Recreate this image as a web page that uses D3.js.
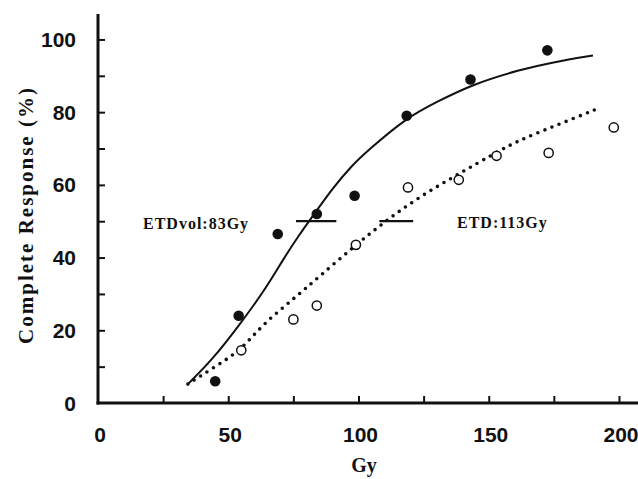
<!DOCTYPE html>
<html>
<head>
<meta charset="utf-8">
<script src="https://cdn.jsdelivr.net/npm/d3@7"></script>
<style>
  html, body { margin: 0; padding: 0; background: #fff; }
  svg { display: block; }
  .tick-label { font-family: "Liberation Sans", Arial, sans-serif; font-weight: bold; font-size: 21px; fill: #111; }
  .serif { font-family: "Liberation Serif", "Times New Roman", serif; font-weight: bold; fill: #111; }
</style>
</head>
<body>
<div id="chart"></div>
<script>
"use strict";

// --- DATA ---
const filledGy = [45, 54, 69, 84, 98.5, 118.5, 143, 172.5];
const filledCR = [6, 24, 46.5, 52, 57, 79, 89, 97];

const openGy = [55, 75, 84, 99, 119, 138.5, 153, 173, 198];
const openCR = [14.5, 23, 26.8, 43.5, 59.3, 61.4, 68, 68.8, 75.8];

// fitted curve (ETDvol) - solid
const solidGy = [34.5, 44, 54, 64, 71.5, 77, 83, 90, 97, 104, 118.5, 130, 143.5, 162, 175, 190];
const solidCR = [5.2, 12, 21.2, 31, 40, 46, 52, 59, 65, 69.7, 78.5, 82.8, 87.6, 91.7, 93.8, 95.6];

// fitted curve (ETD) - dotted
const dottedGy = [34.5, 45, 55, 63, 75, 85, 99, 111, 124, 138, 152, 162, 174, 193];
const dottedCR = [5.2, 10, 14.6, 21.5, 28.6, 34.8, 43.5, 50.4, 57, 62.8, 68.6, 72.4, 75.8, 81.3];

const etdLabels = ["ETDvol:83Gy", "ETD:113Gy"];
const etdSpanLo = [76, 108];
const etdSpanHi = [91.5, 121];
const etdLevel = 50;

const xTickVals = [0, 25, 50, 75, 100, 125, 150, 175, 200];
const xLabelVals = [0, 50, 100, 150, 200];
const yTickVals = [10, 20, 30, 40, 50, 60, 70, 80, 90, 100];
const yLabelVals = [0, 20, 40, 60, 80, 100];

// --- LAYOUT ---
const W = 638, H = 479;
const M = { left: 98, right: 0, top: 14, bottom: 76 };
const ink = "#111";

const x = d3.scaleLinear().domain([0, 207.3]).range([M.left, W - M.right]);
const y = d3.scaleLinear().domain([0, 107]).range([H - M.bottom, M.top]);

const svg = d3.select("#chart").append("svg").attr("width", W).attr("height", H);

// --- AXES ---
const xAxis = svg.append("g").attr("transform", `translate(0,${y(0)})`)
    .call(d3.axisTop(x).tickValues(xTickVals.filter(v => v > 0)).tickSize(7).tickFormat(""));
xAxis.select(".domain").attr("d", `M${M.left - 1.5},0H${W}`).attr("stroke", ink).attr("stroke-width", 3);
xAxis.selectAll(".tick line").attr("stroke", ink).attr("stroke-width", 2);

const yAxis = svg.append("g").attr("transform", `translate(${x(0)},0)`)
    .call(d3.axisRight(y).tickValues(yTickVals).tickSize(7).tickFormat(""));
yAxis.select(".domain").attr("d", `M0,${M.top}V${y(0) + 1.5}`).attr("stroke", ink).attr("stroke-width", 3);
yAxis.selectAll(".tick line").attr("stroke", ink).attr("stroke-width", 2);

// tick labels
svg.append("g").selectAll("text").data(xLabelVals).enter().append("text")
    .attr("class", "tick-label")
    .attr("x", d => x(d) + 2).attr("y", 442)
    .attr("text-anchor", "middle")
    .text(d => d);

svg.append("g").selectAll("text").data(yLabelVals).enter().append("text")
    .attr("class", "tick-label")
    .attr("x", 76).attr("y", d => y(d) + 7.5)
    .attr("text-anchor", "end")
    .text(d => d);

// axis titles
svg.append("text").attr("class", "serif")
    .attr("x", 364).attr("y", 472)
    .attr("text-anchor", "middle")
    .style("font-size", "20px")
    .text("Gy");

svg.append("text").attr("class", "serif")
    .attr("transform", "translate(33,215) rotate(-90)")
    .attr("text-anchor", "middle")
    .style("font-size", "21px").style("letter-spacing", "2px")
    .text("Complete Response (%)");

// --- CURVES ---
const line = d3.line().x(d => x(d[0])).y(d => y(d[1])).curve(d3.curveBasis);

svg.append("path")
    .datum(d3.zip(solidGy, solidCR))
    .attr("d", line)
    .attr("fill", "none").attr("stroke", ink).attr("stroke-width", 2);

svg.append("path")
    .datum(d3.zip(dottedGy, dottedCR))
    .attr("d", line)
    .attr("fill", "none").attr("stroke", ink).attr("stroke-width", 3.6)
    .attr("stroke-linecap", "round").attr("stroke-dasharray", "0,7.6");

// --- ETD markers ---
svg.append("g").selectAll("line").data(d3.range(etdLabels.length)).enter().append("line")
    .attr("x1", i => x(etdSpanLo[i])).attr("x2", i => x(etdSpanHi[i]))
    .attr("y1", y(etdLevel)).attr("y2", y(etdLevel))
    .attr("stroke", ink).attr("stroke-width", 2.2);

svg.append("text").attr("class", "serif")
    .attr("x", 143).attr("y", 229)
    .style("font-size", "16px").style("letter-spacing", "1px")
    .text(etdLabels[0]);

svg.append("text").attr("class", "serif")
    .attr("x", 457).attr("y", 228)
    .style("font-size", "16px").style("letter-spacing", "1px")
    .text(etdLabels[1]);

// --- POINTS ---
svg.append("g").selectAll("circle").data(d3.zip(filledGy, filledCR)).enter().append("circle")
    .attr("cx", d => x(d[0])).attr("cy", d => y(d[1])).attr("r", 5.3)
    .attr("fill", ink);

svg.append("g").selectAll("circle").data(d3.zip(openGy, openCR)).enter().append("circle")
    .attr("cx", d => x(d[0])).attr("cy", d => y(d[1])).attr("r", 4.6)
    .attr("fill", "#fff").attr("stroke", ink).attr("stroke-width", 1.5);
</script>
</body>
</html>
